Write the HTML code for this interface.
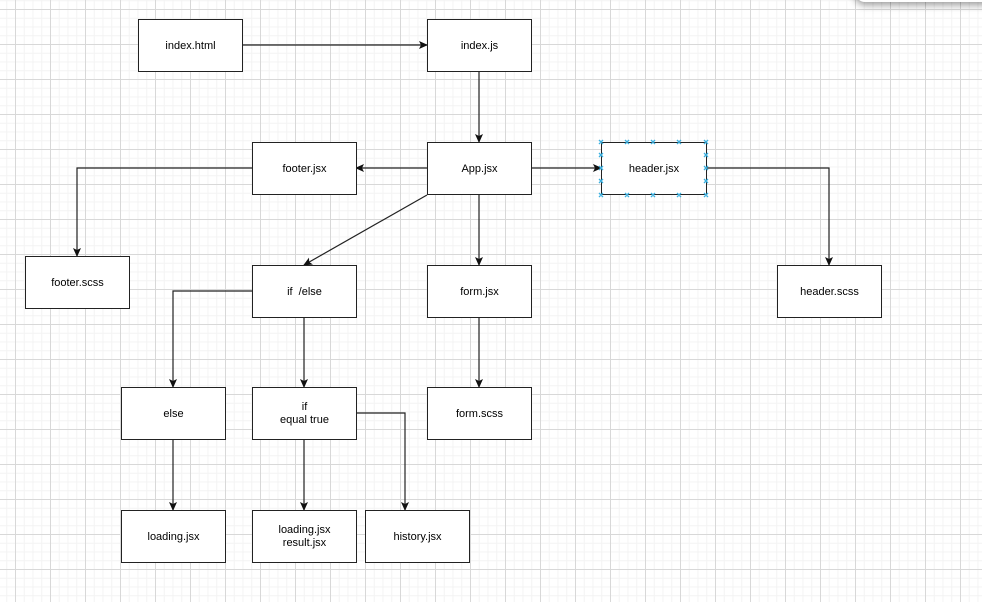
<!DOCTYPE html>
<html><head><style>
html,body{margin:0;padding:0}
body{width:982px;height:602px;overflow:hidden;position:relative;background-color:#fff;
background-image:
linear-gradient(to right,#d8d8d8 1px,transparent 1px),
linear-gradient(to bottom,#d8d8d8 1px,transparent 1px),
linear-gradient(to right,#f3f3f3 1px,transparent 1px),
linear-gradient(to bottom,#f3f3f3 1px,transparent 1px);
background-size:35px 35px,35px 35px,8.75px 8.75px,8.75px 8.75px;
background-position:15px 0,0 9px,15px 0,0 9px;
font-family:"Liberation Sans",Arial,sans-serif;}
.b{position:absolute;width:105px;height:53px;background:#fff;border:1.5px solid #222;box-sizing:border-box;display:flex;align-items:center;justify-content:center;text-align:center;font-size:11px;line-height:13px;color:#000;padding-top:1px}
.sh{position:absolute;left:855px;top:-20px;width:170px;height:22px;border-radius:10px;box-shadow:0 3px 8px rgba(0,0,0,.4);background:#fff}
svg{position:absolute;left:0;top:0}
</style></head><body>
<div class="sh"></div>
<svg width="982" height="602">
<defs><marker id="a" markerWidth="9" markerHeight="9" refX="8" refY="4.5" orient="auto" markerUnits="userSpaceOnUse"><path d="M0,0.5 L9,4.5 L0,8.5 L2,4.5 Z" fill="#111"/></marker></defs>
<g stroke="#222" stroke-width="1.2" fill="none" marker-end="url(#a)">
<path d="M242,45H427"/>
<path d="M479,71V142"/>
<path d="M427,168H356"/>
<path d="M252,168H77V256"/>
<path d="M531,168H601"/>
<path d="M706,168H829V265"/>
<path d="M427,195L304,265"/>
<path d="M479,194V265"/>
<path d="M252,291H173V387"/>
<path d="M304,317V387"/>
<path d="M479,317V387"/>
<path d="M173,439V510"/>
<path d="M304,439V510"/>
<path d="M356,413H405V510"/>
</g>
</svg>
<div class="b" style="left:138px;top:19px">index.html</div>
<div class="b" style="left:427px;top:19px">index.js</div>
<div class="b" style="left:427px;top:142px">App.jsx</div>
<div class="b" style="left:252px;top:142px">footer.jsx</div>
<div class="b" style="left:601px;top:142px;width:106px">header.jsx</div>
<div class="b" style="left:25px;top:256px">footer.scss</div>
<div class="b" style="left:252px;top:265px">if &nbsp;/else</div>
<div class="b" style="left:427px;top:265px">form.jsx</div>
<div class="b" style="left:777px;top:265px">header.scss</div>
<div class="b" style="left:121px;top:387px">else</div>
<div class="b" style="left:252px;top:387px">if<br>equal true</div>
<div class="b" style="left:427px;top:387px">form.scss</div>
<div class="b" style="left:121px;top:510px">loading.jsx</div>
<div class="b" style="left:252px;top:510px">loading.jsx<br>result.jsx</div>
<div class="b" style="left:365px;top:510px">history.jsx</div>
<svg width="982" height="602">
<g stroke="#3bb0e0" stroke-width="1.3" fill="none">
<path d="M599,140l4,4m0,-4l-4,4M625,140l4,4m0,-4l-4,4M651,140l4,4m0,-4l-4,4M677,140l4,4m0,-4l-4,4M704,140l4,4m0,-4l-4,4"/>
<path d="M599,193l4,4m0,-4l-4,4M625,193l4,4m0,-4l-4,4M651,193l4,4m0,-4l-4,4M677,193l4,4m0,-4l-4,4M704,193l4,4m0,-4l-4,4"/>
<path d="M599,153l4,4m0,-4l-4,4M599,166l4,4m0,-4l-4,4M599,179l4,4m0,-4l-4,4"/>
<path d="M704,153l4,4m0,-4l-4,4M704,166l4,4m0,-4l-4,4M704,179l4,4m0,-4l-4,4"/>
</g>
</svg>
</body></html>
